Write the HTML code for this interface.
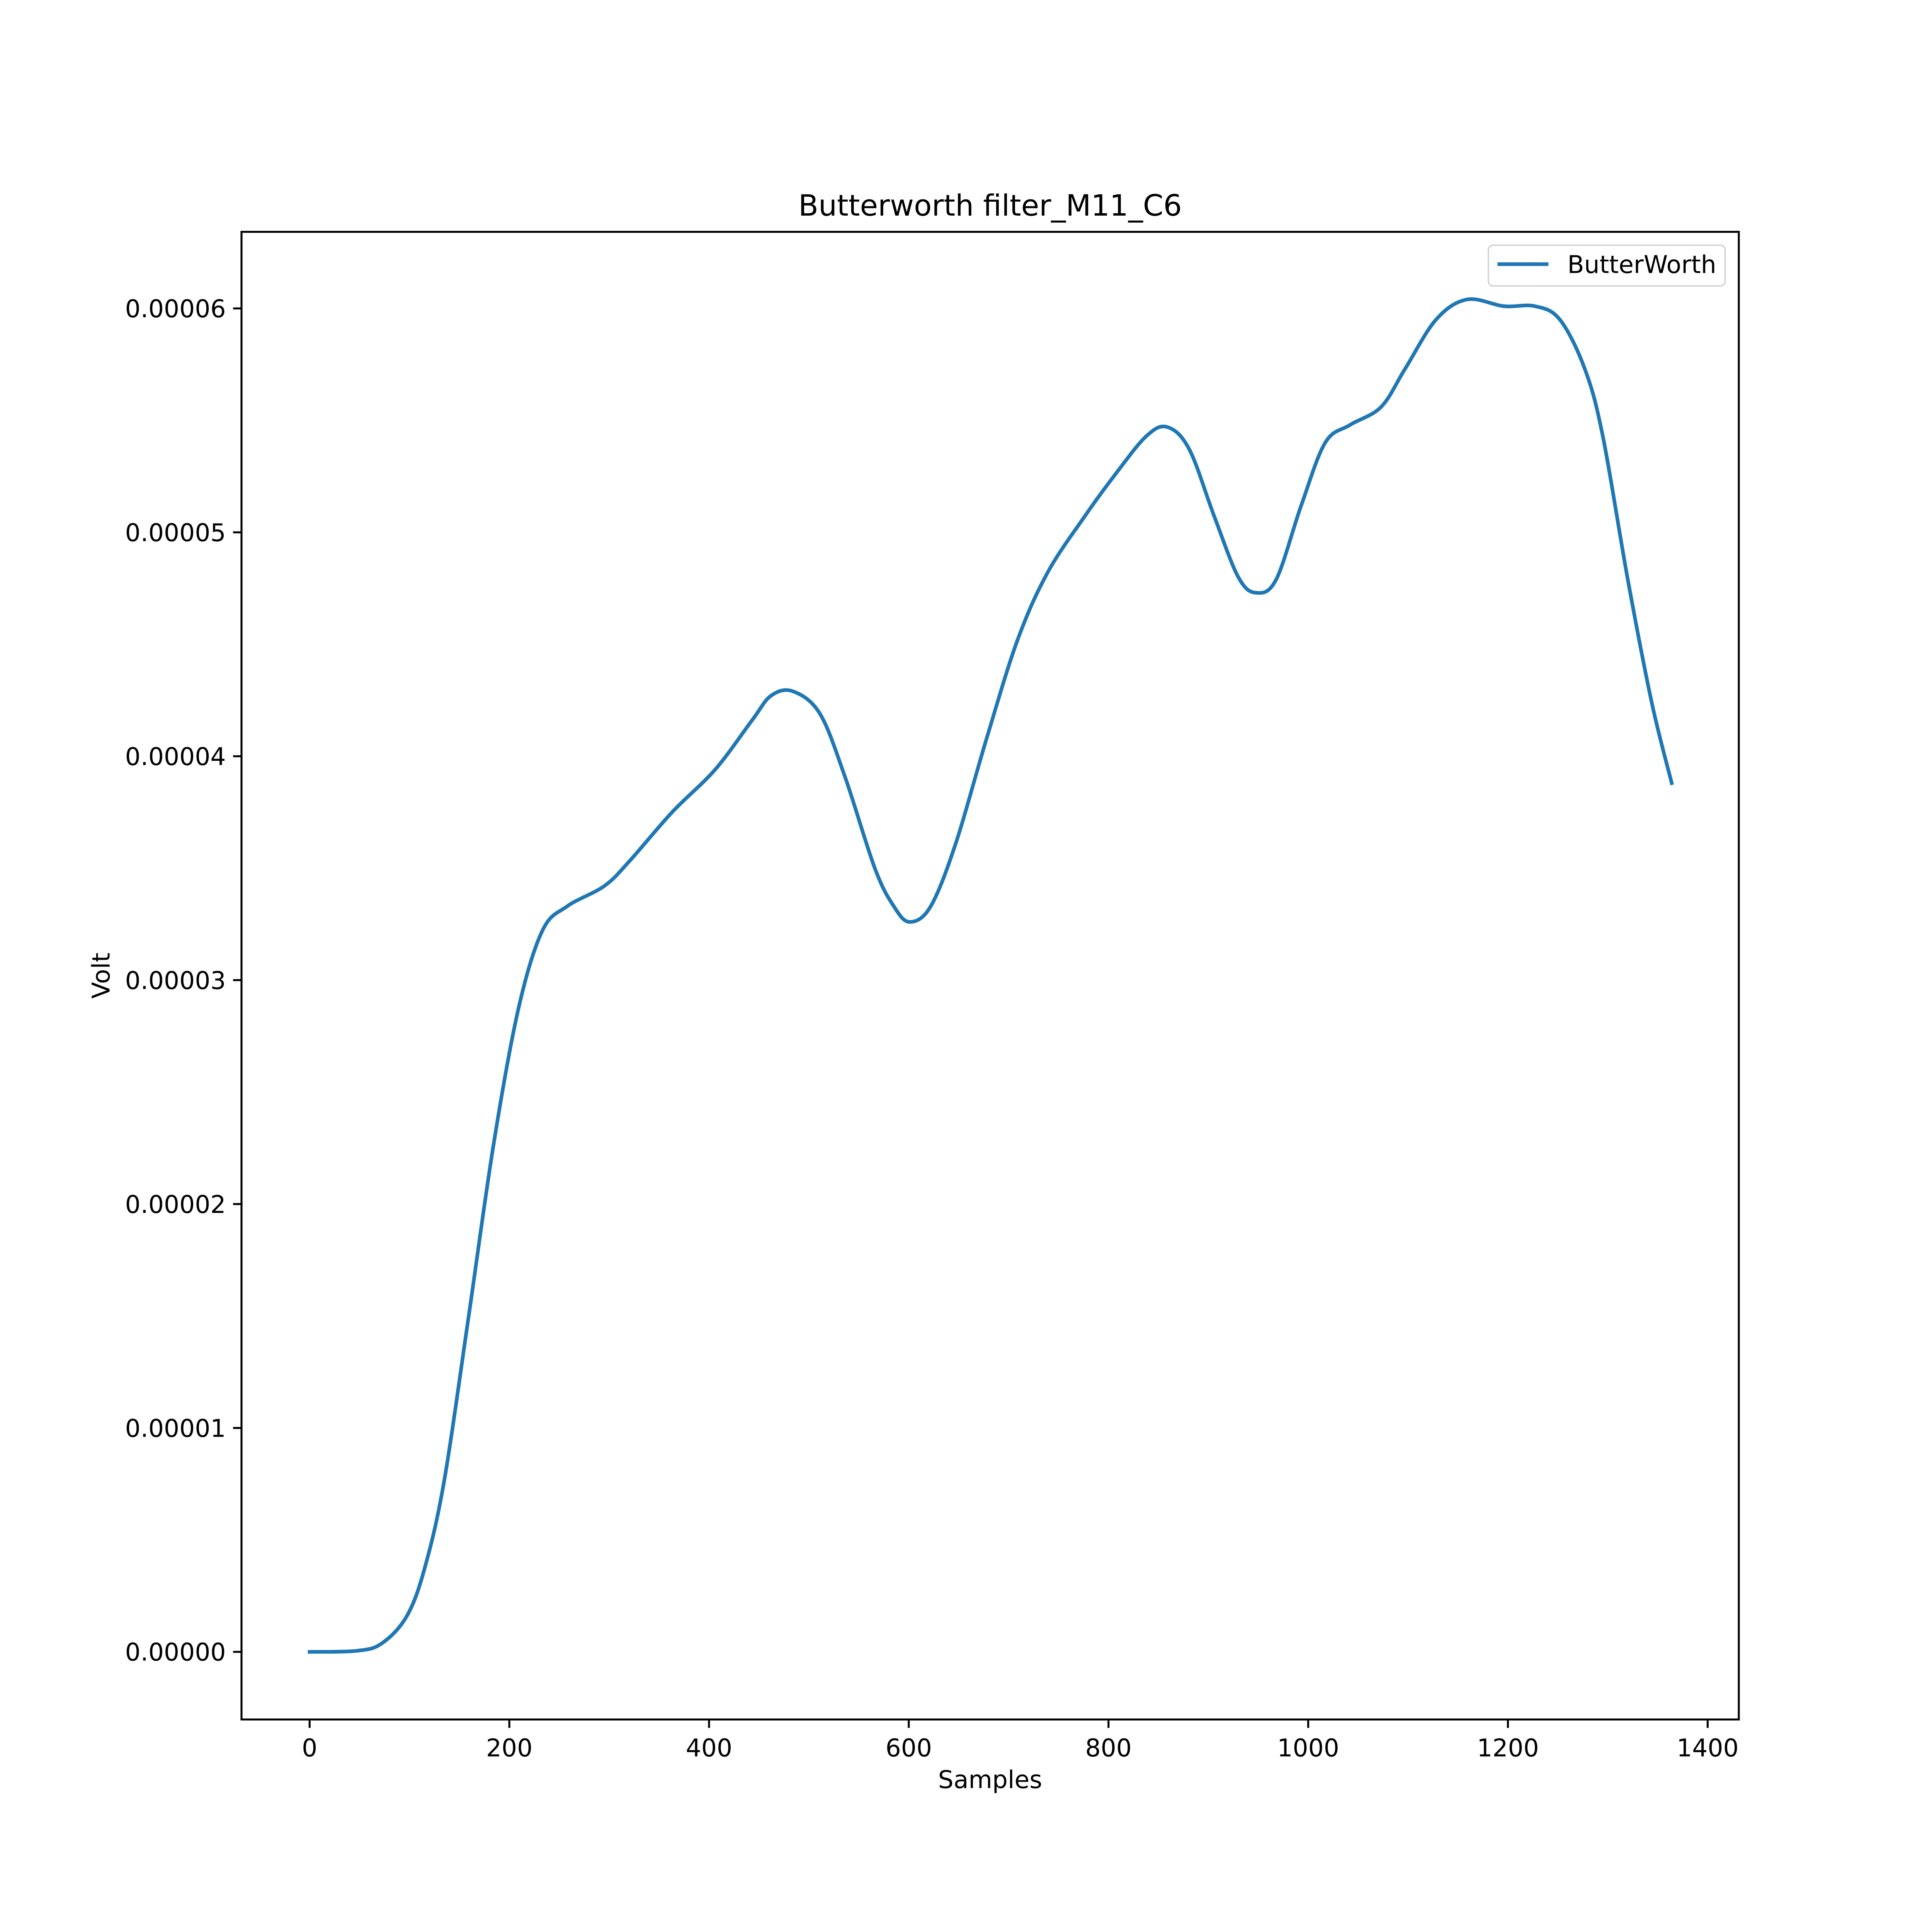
<!DOCTYPE html>
<html><head><meta charset="utf-8"><style>
html,body{margin:0;padding:0;background:#fff;overflow:hidden;width:100%;height:100%}
svg{display:block;width:100vw;height:100vh;font-family:"DejaVu Sans","Liberation Sans",sans-serif}
</style></head><body>
<svg id="chart" viewBox="0 0 5500 5500" preserveAspectRatio="none">
<rect x="0" y="0" width="5500" height="5500" fill="#fff"/>
<g id="plot"></g>
</svg>
<script>
const xTicks=[0,200,400,600,800,1000,1200,1400];
const yTicks=[0,1e-5,2e-5,3e-5,4e-5,5e-5,6e-5];
const yTickLabels=["0.00000","0.00001","0.00002","0.00003","0.00004","0.00005","0.00006"];
const samples=[0,48,73,98,116,135,159,184,209,233,258,295,320,363,406,443,462,484,511,536,566,585,601,622,647,678,709,739,776,807,838,859,881,906,930,948,968,993,1017,1042,1073,1097,1128,1159,1196,1227,1252,1277,1295,1320,1344,1364];
const volts=[0,0.005,0.04,0.165,0.386,0.77,1.49,2.26,2.87,3.22,3.33,3.42,3.53,3.75,3.94,4.16,4.27,4.29,4.19,3.91,3.50,3.33,3.26,3.33,3.61,4.08,4.52,4.82,5.07,5.26,5.43,5.47,5.37,5.07,4.80,4.73,4.79,5.12,5.40,5.48,5.56,5.73,5.95,6.04,6.01,6.01,5.95,5.73,5.43,4.79,4.24,3.88].map(v=>v*1e-5);

const L=687.5,R=4950,T=660,B=4895;
const xmin=-68.2,xmax=1431.2,ymin=-0.302e-5,ymax=6.342e-5;
const sx=v=>L+(v-xmin)/(xmax-xmin)*(R-L);
const sy=v=>B-(v-ymin)/(ymax-ymin)*(B-T);
const NS="http://www.w3.org/2000/svg";
const g=document.getElementById('plot');
function mk(tag,attrs,text){const e=document.createElementNS(NS,tag);for(const k in attrs)e.setAttribute(k,attrs[k]);if(text!==undefined)e.textContent=text;g.appendChild(e);return e;}

const P=samples.map((s,i)=>[sx(s),sy(volts[i])]);
let d="M"+P[0][0].toFixed(1)+","+P[0][1].toFixed(1);
for(let i=0;i<P.length-1;i++){
  const p0=P[Math.max(0,i-1)],p1=P[i],p2=P[i+1],p3=P[Math.min(P.length-1,i+2)];
  const c1=[p1[0]+(p2[0]-p0[0])/6,p1[1]+(p2[1]-p0[1])/6];
  const c2=[p2[0]-(p3[0]-p1[0])/6,p2[1]-(p3[1]-p1[1])/6];
  d+=" C"+c1.map(v=>v.toFixed(1))+" "+c2.map(v=>v.toFixed(1))+" "+p2.map(v=>v.toFixed(1));
}
const line=mk('path',{d:d,fill:'none',stroke:'#1f77b4','stroke-width':10.4,'stroke-linecap':'square','stroke-linejoin':'round'});



const frame=mk('rect',{x:L,y:T,width:R-L,height:B-T,fill:'none',stroke:'#000','stroke-width':5.6});



xTicks.forEach(t=>{
  const x=sx(t);
  const tk=mk('line',{x1:x,y1:B,x2:x,y2:B+24,stroke:'#000','stroke-width':5.6});
  
  
  const lb=mk('text',{x:x,y:5000,'font-size':69.4,'text-anchor':'middle',fill:'#000'},String(t));
  
  
});
yTicks.forEach((t,i)=>{
  const y=sy(t);
  const tk=mk('line',{x1:L,y1:y,x2:L-24,y2:y,stroke:'#000','stroke-width':5.6});
  
  
  const lb=mk('text',{x:643,y:y+25,'font-size':69.4,'text-anchor':'end',fill:'#000'},yTickLabels[i]);
  
  
});

const title=mk('text',{x:(L+R)/2,y:614,'font-size':83.3,'text-anchor':'middle',fill:'#000'},'Butterworth filter_M11_C6');


const xl=mk('text',{x:(L+R)/2,y:5090,'font-size':69.4,'text-anchor':'middle',fill:'#000'},'Samples');


const yl=mk('text',{x:0,y:0,'font-size':69.4,'text-anchor':'middle',fill:'#000',transform:'translate(312,'+((T+B)/2)+') rotate(-90)'},'Volt');



const lg=mk('rect',{x:4237,y:698,width:674,height:116,rx:14,fill:'#fff',stroke:'#ccc','stroke-width':3.5});


const ll=mk('line',{x1:4263,y1:752,x2:4408,y2:752,stroke:'#1f77b4','stroke-width':10.4});


const lt=mk('text',{x:4462,y:777,'font-size':69.4,fill:'#000'},'ButterWorth');


</script>
</body></html>
